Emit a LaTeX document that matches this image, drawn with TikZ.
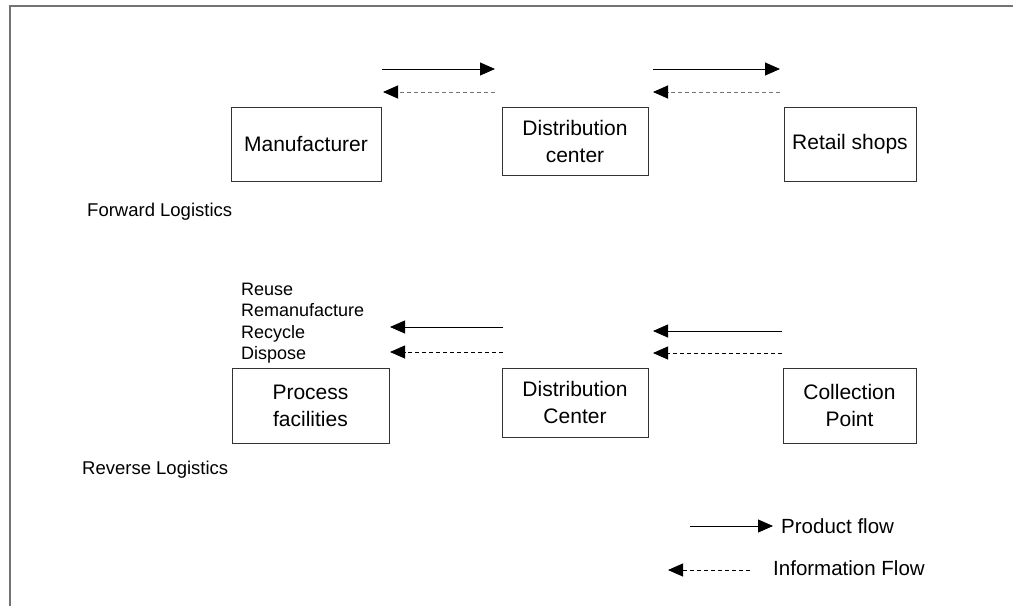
\documentclass[tikz,border=0pt]{standalone}
\usepackage{fontspec}
\setmainfont{Liberation Sans}
\usetikzlibrary{arrows.meta}
\begin{document}
\begin{tikzpicture}[x=1pt,y=-1pt,
  box/.style={draw=black!80, line width=0.9pt, inner sep=0pt, align=center,
    font=\fontsize{21}{27}\selectfont},
  flow/.style={line width=0.9pt, -{Triangle[length=15pt,width=13pt]}},
  info/.style={flow, dash pattern=on 4pt off 3pt},
  greyinfo/.style={info, draw=black!55, -{Triangle[length=15pt,width=13pt,color=black]}},
  caption/.style={font=\fontsize{18.5}{22}\selectfont, inner sep=0pt, anchor=west},
  option/.style={font=\fontsize{18}{21.5}\selectfont, inner sep=0pt, anchor=base west},
  legend/.style={font=\fontsize{20.5}{24}\selectfont, inner sep=0pt, anchor=base west}]
\useasboundingbox (0,0) rectangle (1013,606);

% frame
\draw[black!55, line width=1.5pt] (10,606) -- (10,6) -- (1013,6);

% forward logistics chain
\node[box, minimum width=150pt, minimum height=74pt] (mfr) at (306,144) {Manufacturer};
\node[box, minimum width=146pt, minimum height=68pt] (dcf) at (575,141) {Distribution\\center};
\node[box, minimum width=132pt, minimum height=74pt] (shop) at (850,144) {Retail shops};

\coordinate (f1a) at (382,69);  \coordinate (f1b) at (495,69);
\coordinate (f1c) at (495,92);  \coordinate (f1d) at (383,92);
\coordinate (f2a) at (653,69);  \coordinate (f2b) at (780,69);
\coordinate (f2c) at (780,92);  \coordinate (f2d) at (653,92);
\draw[flow] (f1a) -- (f1b);
\draw[greyinfo] (f1c) -- (f1d);
\draw[flow] (f2a) -- (f2b);
\draw[greyinfo] (f2c) -- (f2d);

\node[caption] (fwd) at (87,212) {Forward Logistics};

% reverse logistics chain
\node[box, minimum width=157pt, minimum height=75pt] (proc) at (310.5,405.5) {Process\\facilities};
\node[box, minimum width=146pt, minimum height=69pt] (dcr) at (575,402.5) {Distribution\\Center};
\node[box, minimum width=133pt, minimum height=75pt] (coll) at (849.5,405.5) {Collection\\Point};

\node[option] (o1) at (241,295) {Reuse};
\node[option] (o2) at (241,316.5) {Remanufacture};
\node[option] (o3) at (241,338) {Recycle};
\node[option] (o4) at (241,359.5) {Dispose};

\coordinate (r1a) at (503,327);  \coordinate (r1b) at (390,327);
\coordinate (r1c) at (503,352);  \coordinate (r1d) at (390,352);
\coordinate (r2a) at (782,331);  \coordinate (r2b) at (653,331);
\coordinate (r2c) at (782,353);  \coordinate (r2d) at (653,353);
\draw[flow] (r1a) -- (r1b);
\draw[info] (r1c) -- (r1d);
\draw[flow] (r2a) -- (r2b);
\draw[info] (r2c) -- (r2d);

\node[caption] (rev) at (82,470) {Reverse Logistics};

% legend
\coordinate (l1a) at (690,526);  \coordinate (l1b) at (773,526);
\coordinate (l2a) at (750,570);  \coordinate (l2b) at (668,570);
\draw[flow] (l1a) -- (l1b);
\draw[info] (l2a) -- (l2b);
\node[legend] (lp) at (781,533) {Product flow};
\node[legend] (li) at (773,575) {Information Flow};
\end{tikzpicture}
\end{document}
